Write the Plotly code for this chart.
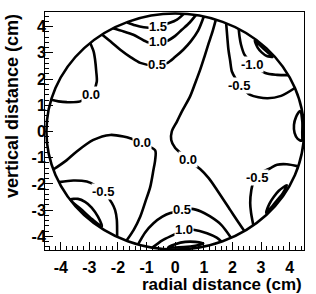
import plotly.graph_objects as go

# ---------------- data (cm) ----------------
RADIUS = 4.5
x_ticks = [-4, -3, -2, -1, 0, 1, 2, 3, 4]
y_ticks = [-4, -3, -2, -1, 0, 1, 2, 3, 4]

# contour level +1.5 (top) and closed loop near bottom
p15_top_x = [-1.68, -1.40, -1.10, -0.60, -0.30, 0.05, 0.30]
p15_top_y = [4.16, 4.05, 3.98, 3.97, 4.10, 4.26, 4.49]
p15_bot_x = [-0.25, 0.00, 0.35, 0.70, 0.98, 0.70, 0.30, -0.25]
p15_bot_y = [-4.42, -4.30, -4.21, -4.21, -4.27, -4.36, -4.41, -4.42]

# level +1.0
p10_top_x = [-2.18, -1.80, -1.46, -0.99, -0.59, -0.31, 0.00, 0.23, 0.50, 0.72]
p10_top_y = [3.94, 3.82, 3.69, 3.42, 3.38, 3.44, 3.65, 3.88, 4.15, 4.44]
p10_bot_x = [-0.80, -0.45, -0.06, 0.29, 0.64, 1.11, 1.45, 1.62]
p10_bot_y = [-4.43, -4.15, -3.94, -3.76, -3.75, -3.88, -4.05, -4.20]

# level +0.5
p05_top_x = [-2.56, -2.20, -1.92, -1.55, -1.22, -0.70, -0.29, 0.00, 0.28, 0.55, 0.80, 1.00]
p05_top_y = [3.70, 3.38, 3.12, 2.83, 2.62, 2.52, 2.61, 2.85, 3.12, 3.45, 3.85, 4.39]
p05_bot_x = [-1.30, -1.05, -0.76, -0.45, -0.17, 0.23, 0.58, 0.90, 1.22, 1.60, 1.95]
p05_bot_y = [-4.31, -3.85, -3.50, -3.25, -3.11, -3.02, -2.95, -3.05, -3.24, -3.55, -4.05]

# level 0.0
z00_mid_x = [1.42, 1.30, 1.17, 1.02, 0.87, 0.70, 0.52, 0.23, 0.06, -0.12, -0.14, 0.00, 0.17,
             0.43, 0.87, 1.17, 1.46, 1.92, 2.20, 2.42]
z00_mid_y = [4.27, 3.80, 3.37, 2.85, 2.35, 1.85, 1.34, 0.76, 0.38, 0.00, -0.32, -0.63, -0.80,
             -1.08, -1.43, -1.78, -2.23, -2.99, -3.45, -3.80]
z00_low_x = [-4.26, -3.80, -3.44, -2.86, -2.27, -1.81, -1.55, -1.15, -0.70, -0.70, -0.76,
             -0.87, -1.05, -1.22, -1.45, -1.70]
z00_low_y = [-1.45, -1.10, -0.76, -0.32, -0.13, -0.19, -0.27, -0.45, -0.72, -1.08, -1.46,
             -2.10, -2.70, -3.24, -3.75, -4.16]
z00_up_x = [-2.97, -2.85, -2.80, -2.76, -2.74, -2.85, -2.95, -3.32, -3.79, -4.08, -4.33]
z00_up_y = [3.38, 3.05, 2.74, 2.30, 1.91, 1.55, 1.40, 1.15, 1.12, 1.15, 1.21]

# level -0.5
m05_left_x = [-4.06, -3.56, -3.09, -2.80, -2.51, -2.21, -2.10, -2.04, -2.03]
m05_left_y = [-1.93, -1.87, -1.91, -2.05, -2.29, -2.73, -3.00, -3.37, -4.02]
m05_tr_x = [1.78, 1.82, 1.86, 1.92, 1.98, 2.12, 2.27, 2.62, 3.21, 3.70, 4.18]
m05_tr_y = [4.13, 3.60, 3.12, 2.70, 2.29, 2.00, 1.78, 1.40, 1.27, 1.36, 1.66]
m05_br_x = [4.30, 3.90, 3.56, 3.32, 3.05, 2.86, 2.72, 2.66, 2.62, 2.65, 2.73]
m05_br_y = [-1.33, -1.25, -1.27, -1.40, -1.55, -1.74, -1.97, -2.23, -2.73, -3.10, -3.58]

# level -1.0
m10_tr_x = [2.22, 2.25, 2.30, 2.42, 2.68, 3.15, 3.56, 3.95]
m10_tr_y = [3.91, 3.60, 3.31, 2.93, 2.61, 2.23, 2.16, 2.15]
m10_ll_x = [-3.66, -3.40, -3.15, -2.92, -2.70, -2.56, -2.91, -3.29, -3.66]
m10_ll_y = [-2.60, -2.57, -2.68, -2.90, -3.25, -3.62, -3.34, -2.96, -2.60]
m10_lr_x = [3.18, 3.29, 3.44, 3.62, 3.90, 3.76, 3.58, 3.39, 3.18]
m10_lr_y = [-3.10, -2.76, -2.50, -2.26, -2.05, -2.35, -2.60, -2.85, -3.10]

# level -1.5 (small closed loops)
m15_tr_x = [2.78, 2.88, 3.02, 3.20, 3.40, 3.21, 2.99, 2.78]
m15_tr_y = [3.47, 3.20, 3.02, 2.88, 2.85, 3.04, 3.26, 3.47]
m15_r_x = [4.36, 4.22, 4.15, 4.17, 4.28, 4.42, 4.44, 4.44, 4.36]
m15_r_y = [0.78, 0.55, 0.25, -0.05, -0.28, -0.35, 0.00, 0.40, 0.78]

# contour labels
label_text = ["1.5", "1.0", "0.5", "0.0", "0.0", "0.0", "-0.5", "-1.0",
              "-0.5", "-0.5", "0.5", "1.0"]
label_x = [-0.59, -0.59, -0.62, -2.94, -1.15, 0.43, 2.23, 2.69, -2.51, 2.86, 0.23, 0.31]
label_y = [4.00, 3.42, 2.55, 1.40, -0.41, -1.08, 1.77, 2.57, -2.29, -1.75, -2.99, -3.72]

segments = [
    (p15_top_x, p15_top_y), (p15_bot_x, p15_bot_y),
    (p10_top_x, p10_top_y), (p10_bot_x, p10_bot_y),
    (p05_top_x, p05_top_y), (p05_bot_x, p05_bot_y),
    (z00_mid_x, z00_mid_y), (z00_low_x, z00_low_y), (z00_up_x, z00_up_y),
    (m05_left_x, m05_left_y), (m05_tr_x, m05_tr_y), (m05_br_x, m05_br_y),
    (m10_tr_x, m10_tr_y), (m10_ll_x, m10_ll_y), (m10_lr_x, m10_lr_y),
    (m15_tr_x, m15_tr_y), (m15_r_x, m15_r_y),
]

FONT = "Liberation Sans, Arial, Helvetica, sans-serif"

fig = go.Figure()
for sx, sy in segments:
    fig.add_trace(go.Scatter(x=sx, y=sy, mode="lines",
                             line=dict(color="black", width=2.6, shape="spline", smoothing=0.8),
                             hoverinfo="skip", showlegend=False))

fig.add_shape(type="circle", xref="x", yref="y",
              x0=-RADIUS, x1=RADIUS, y0=-RADIUS, y1=RADIUS,
              line=dict(color="black", width=2.6), layer="above")

for t, lx, ly in zip(label_text, label_x, label_y):
    fig.add_annotation(x=lx, y=ly, xref="x", yref="y", text=t, showarrow=False,
                       font=dict(family=FONT, size=13, color="black", weight="bold"),
                       bgcolor="white", borderpad=0)

axis_common = dict(
    showline=True, linecolor="black", linewidth=1, mirror=True,
    ticks="inside", ticklen=8, tickwidth=1, tickcolor="black",
    showgrid=False, zeroline=False,
    tickfont=dict(family=FONT, size=16, color="black", weight="bold"),
    minor=dict(ticks="inside", ticklen=4, tickwidth=1, tickcolor="black", dtick=0.2,
               showgrid=False),
)

fig.update_xaxes(range=[-4.55, 4.5], tickmode="array", tickvals=x_ticks,
                 ticktext=[str(v) for v in x_ticks], ticklabelstandoff=3, **axis_common)
fig.update_yaxes(range=[-4.52, 4.56], tickmode="array", tickvals=y_ticks,
                 ticktext=[str(v) for v in y_ticks], ticklabelstandoff=-5, **axis_common)

fig.add_annotation(text="radial distance (cm)", xref="paper", yref="paper", x=1, y=0,
                   xanchor="right", yanchor="middle", yshift=-34, xshift=0, showarrow=False,
                   font=dict(family=FONT, size=17, color="black", weight="bold"))
fig.add_annotation(text="vertical distance (cm)", xref="paper", yref="paper", x=0, y=1,
                   xanchor="center", yanchor="top", xshift=-33, textangle=-90, showarrow=False,
                   font=dict(family=FONT, size=18, color="black", weight="bold"))

fig.update_layout(width=316, height=294, margin=dict(l=45, r=12, t=12, b=44),
                  plot_bgcolor="white", paper_bgcolor="white", showlegend=False)

# remove the default page margin so the figure sits at the window's top-left corner
fig.write_html("out.html", config={"displayModeBar": False},
               post_script="document.body.style.margin='0';")
